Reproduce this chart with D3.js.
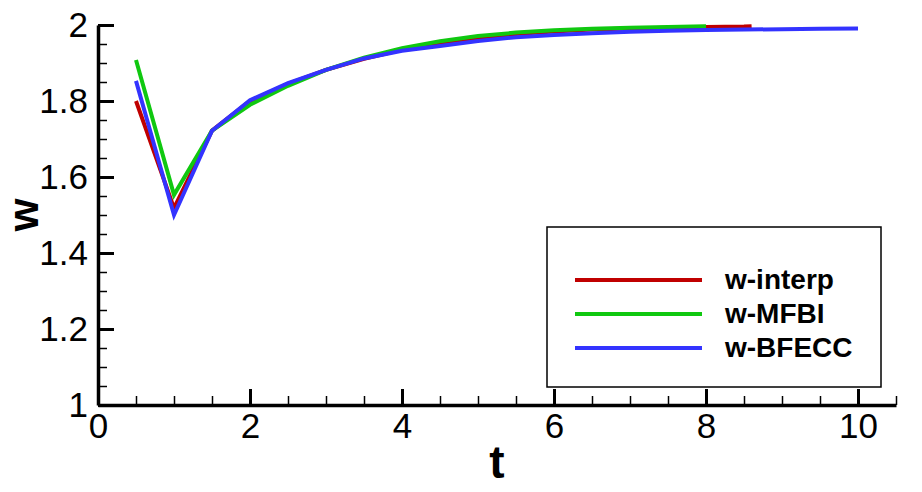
<!DOCTYPE html>
<html>
<head>
<meta charset="utf-8">
<script src="https://cdn.jsdelivr.net/npm/d3@7"></script>
<style>
  body { margin: 0; background: #fff; }
  svg { display: block; font-family: "Liberation Sans", Arial, sans-serif; }
</style>
</head>
<body>
<div id="chart"></div>
<script>
// data
const tBlue = [0.5, 1, 1.5, 2, 2.5, 3, 3.5, 4, 4.5, 5, 5.5, 6, 6.5, 7, 7.5, 8, 8.5, 9, 9.5, 10]
const wBfecc = [1.853, 1.500, 1.722, 1.802, 1.847, 1.882, 1.912, 1.932, 1.945, 1.958, 1.968, 1.974, 1.978, 1.982, 1.985, 1.987, 1.988, 1.989, 1.990, 1.991]
const tGreen = [0.5, 1, 1.5, 2, 2.5, 3, 3.5, 4, 4.5, 5, 5.5, 6, 6.5, 7, 7.5, 8]
const wMfbi = [1.908, 1.553, 1.722, 1.790, 1.840, 1.882, 1.914, 1.939, 1.957, 1.971, 1.980, 1.986, 1.990, 1.993, 1.995, 1.997]
const tRed = [0.5, 1, 1.5, 2, 2.5, 3, 3.5, 4, 4.5, 5, 5.5, 6, 6.5, 7, 7.5, 8, 8.5, 8.6]
const wInterp = [1.800, 1.518, 1.722, 1.800, 1.845, 1.882, 1.911, 1.935, 1.952, 1.966, 1.976, 1.983, 1.988, 1.991, 1.993, 1.995, 1.996, 1.997]

const seriesNames = ['w-interp', 'w-MFBI', 'w-BFECC']
const seriesColors = ['#c00000', '#10c810', '#3333ff']
const xMajor = [0, 2, 4, 6, 8, 10]
const xMinor = [0.5, 1, 1.5, 2.5, 3, 3.5, 4.5, 5, 5.5, 6.5, 7, 7.5, 8.5, 9, 9.5, 10.5]
const yMajor = [1, 1.2, 1.4, 1.6, 1.8, 2]
const yMinor = [1.05, 1.1, 1.15, 1.25, 1.3, 1.35, 1.45, 1.5, 1.55, 1.65, 1.7, 1.75, 1.85, 1.9, 1.95]

const series = [
  { name: seriesNames[0], color: seriesColors[0], pts: tRed.map((t, i) => [t, wInterp[i]]) },
  { name: seriesNames[1], color: seriesColors[1], pts: tGreen.map((t, i) => [t, wMfbi[i]]) },
  { name: seriesNames[2], color: seriesColors[2], pts: tBlue.map((t, i) => [t, wBfecc[i]]) }
]

const W = 922, H = 492
const margin = { top: 25, right: 26, bottom: 87, left: 98 }
const width = W - margin.left - margin.right
const height = H - margin.top - margin.bottom

const svg = d3.select('#chart').append('svg')
  .attr('width', W)
  .attr('height', H)

const g = svg.append('g')
  .attr('transform', `translate(${margin.left},${margin.top})`)

const x = d3.scaleLinear().domain([0, 10.5]).range([0, width])
const y = d3.scaleLinear().domain([1, 2]).range([height, 0])

// minor ticks
g.append('g')
  .attr('transform', `translate(0,${height})`)
  .call(d3.axisBottom(x).tickValues(xMinor).tickSize(-9).tickFormat(''))
  .call(a => a.select('.domain').remove())
  .selectAll('line').attr('stroke-width', 1.5)

g.append('g')
  .call(d3.axisLeft(y).tickValues(yMinor).tickSize(-9).tickFormat(''))
  .call(a => a.select('.domain').remove())
  .selectAll('line').attr('stroke-width', 1.5)

// major ticks + labels
const xAxis = g.append('g')
  .attr('transform', `translate(0,${height})`)
  .call(d3.axisBottom(x).tickValues(xMajor).tickSize(-16).tickSizeOuter(0).tickPadding(8).tickFormat(d3.format('d')))
xAxis.select('.domain').attr('stroke-width', 3.5)
xAxis.selectAll('line').attr('stroke-width', 3)
xAxis.selectAll('text').attr('font-size', 35).attr('font-family', '"Liberation Sans", Arial, sans-serif')

const yAxis = g.append('g')
  .call(d3.axisLeft(y).tickValues(yMajor).tickSize(-16).tickSizeOuter(0).tickPadding(10).tickFormat(d => d === 1 || d === 2 ? d : d3.format('.1f')(d)))
yAxis.select('.domain').attr('stroke-width', 3.5)
yAxis.selectAll('line').attr('stroke-width', 3)
yAxis.selectAll('text').attr('font-size', 35).attr('font-family', '"Liberation Sans", Arial, sans-serif')

// axis titles
svg.append('text')
  .attr('x', 497).attr('y', 478)
  .attr('text-anchor', 'middle')
  .attr('font-size', 46).attr('font-weight', 'bold')
  .text('t')

svg.append('text')
  .attr('transform', 'translate(38,215) rotate(-90)')
  .attr('text-anchor', 'middle')
  .attr('font-size', 42).attr('font-weight', 'bold')
  .text('w')

// curves
const line = d3.line().x(d => x(d[0])).y(d => y(d[1]))

g.selectAll('path.curve')
  .data(series)
  .enter()
  .append('path')
  .attr('class', 'curve')
  .attr('d', d => line(d.pts))
  .attr('fill', 'none')
  .attr('stroke', d => d.color)
  .attr('stroke-width', 4)
  .attr('stroke-linejoin', 'miter')

// legend
const legend = svg.append('g').attr('transform', 'translate(547,227)')
legend.append('rect')
  .attr('width', 334).attr('height', 160)
  .attr('fill', '#fff').attr('stroke', '#000').attr('stroke-width', 1.5)

const items = legend.selectAll('g.item')
  .data(series)
  .enter()
  .append('g')
  .attr('class', 'item')
  .attr('transform', (d, i) => `translate(0,${53 + i * 34})`)

items.append('line')
  .attr('x1', 28).attr('x2', 155)
  .attr('stroke', d => d.color)
  .attr('stroke-width', 4)

items.append('text')
  .attr('x', 178).attr('y', 9)
  .attr('font-size', 28).attr('font-weight', 'bold')
  .text(d => d.name)
</script>
</body>
</html>
